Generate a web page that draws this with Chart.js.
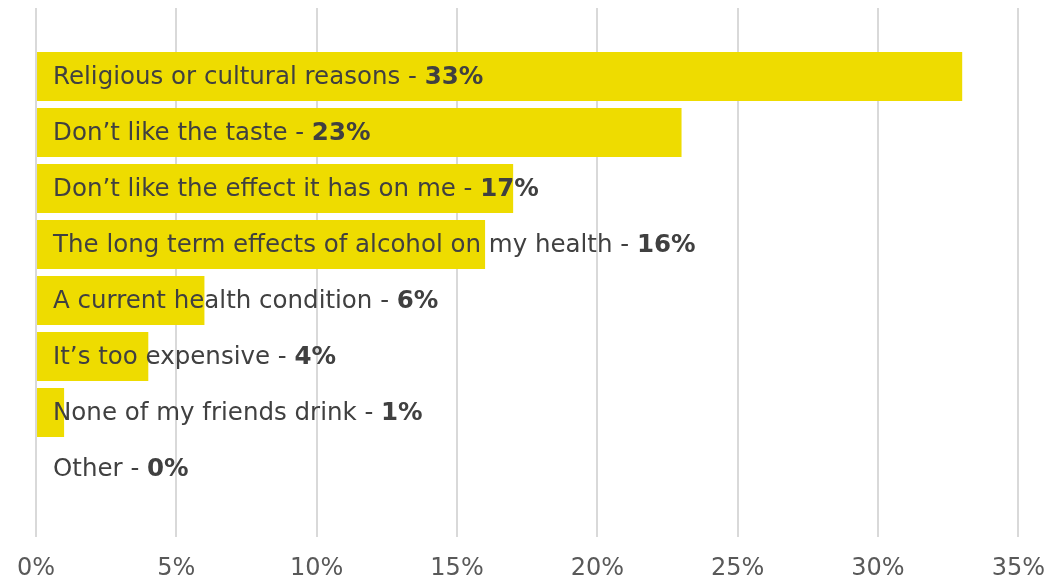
<!DOCTYPE html>
<html>
<head>
<meta charset="utf-8">
<script src="https://cdn.jsdelivr.net/npm/chart.js@4"></script>
<style>
  html, body { margin: 0; padding: 0; background: #ffffff; }
  #wrap { width: 1062px; height: 583px; }
</style>
</head>
<body>
<div id="wrap"><canvas id="reasonsChart" width="1062" height="583"></canvas></div>
<script>
// Reasons for not drinking (share of respondents, %)
var reasons = [
    'Religious or cultural reasons',
    'Don\u2019t like the taste',
    'Don\u2019t like the effect it has on me',
    'The long term effects of alcohol on my health',
    'A current health condition',
    'It\u2019s too expensive',
    'None of my friends drink',
    'Other'
];
var shares = [33, 23, 17, 16, 6, 4, 1, 0];
var xTicks = [0, 5, 10, 15, 20, 25, 30, 35];

var FONT = '"DejaVu Sans", Verdana, sans-serif';

// bars sit on a linear index axis so the spacing above/below matches the original
var points = shares.map(function (v, i) { return { x: v, y: i }; });

// writes "Label - NN%" inside each bar, value in bold
var barLabels = {
    id: 'barLabels',
    afterDatasetsDraw: function (chart) {
        var ctx = chart.ctx;
        var meta = chart.getDatasetMeta(0);
        var left = chart.chartArea.left + 17;
        ctx.save();
        ctx.textBaseline = 'middle';
        ctx.fillStyle = '#404040';
        meta.data.forEach(function (bar, i) {
            var first = reasons[i] + ' - ';
            ctx.font = '24.5px ' + FONT;
            ctx.fillText(first, left, bar.y + 1);
            var w = ctx.measureText(first).width;
            ctx.font = 'bold 24.5px ' + FONT;
            ctx.fillText(shares[i] + '%', left + w, bar.y + 1);
        });
        ctx.restore();
    }
};

var ctx = document.getElementById('reasonsChart').getContext('2d');
var reasonsChart = new Chart(ctx, {
    type: 'bar',
    data: {
        datasets: [{
            data: points,
            backgroundColor: '#eedc00',
            borderWidth: 0,
            barPercentage: 0.875,
            categoryPercentage: 1
        }]
    },
    plugins: [barLabels],
    options: {
        indexAxis: 'y',
        responsive: false,
        animation: false,
        layout: { padding: { top: 8, left: 17, right: 14, bottom: 0 } },
        plugins: {
            legend: { display: false },
            tooltip: { enabled: false }
        },
        scales: {
            x: {
                min: 0,
                max: 35,
                afterBuildTicks: function (scale) {
                    scale.ticks = xTicks.map(function (v) { return { value: v }; });
                },
                afterFit: function (scale) { scale.height = 46; },
                grid: { color: '#d9d9d9', lineWidth: 2, drawTicks: false },
                border: { display: false },
                ticks: {
                    color: '#595959',
                    padding: 17,
                    font: { family: FONT, size: 24 },
                    callback: function (v) { return v + '%'; }
                }
            },
            y: {
                type: 'linear',
                reverse: true,
                offset: false,
                bounds: 'data',
                min: -1.223,
                max: reasons.length - 1 + 1.223,
                display: false
            }
        }
    }
});
</script>
</body>
</html>
